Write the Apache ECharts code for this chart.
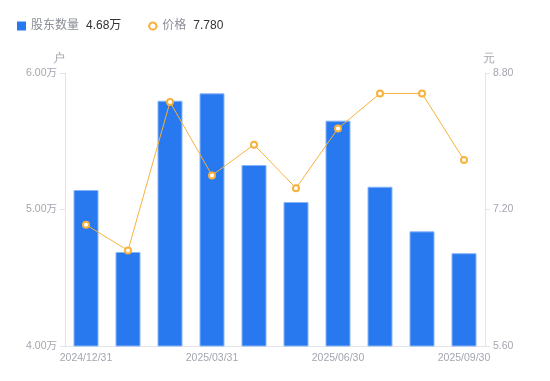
<!DOCTYPE html>
<html><head><meta charset="utf-8">
<script src="https://cdn.jsdelivr.net/npm/echarts@6/dist/echarts.min.js"></script>
<style>html,body{margin:0;padding:0;background:#fff}#c{width:550px;height:381px}</style>
</head><body><div id="c"></div>
<script>
var categories = ['2024/12/31','2025/01/31','2025/02/28','2025/03/31','2025/04/30','2025/05/30','2025/06/30','2025/07/31','2025/08/29','2025/09/30'];
var holders = [51430, 46890, 57970, 58510, 53260, 50550, 56510, 51670, 48400, 46800];
var prices = [7.02, 6.72, 8.46, 7.60, 7.96, 7.45, 8.15, 8.56, 8.56, 7.78];
var leftTicks = [40000, 50000, 60000];
var rightTicks = [5.60, 7.20, 8.80];

var chart = echarts.init(document.getElementById('c'));
var gray = '#a4a6b0';
var ff = 'Liberation Sans, Arial, Noto Sans CJK SC, sans-serif';
chart.setOption({
  animation: false,
  legend: {
    left: 12, top: 15, itemWidth: 9, itemHeight: 9, itemGap: 26,
    textStyle: { fontSize: 12, fontFamily: ff,
      rich: { a: { color: '#8b8d96', fontSize: 12, fontFamily: ff }, b: { color: '#333', fontSize: 12, fontFamily: ff, padding: [0,0,0,7] } } },
    formatter: function (n) {
      if (n === '股东数量') return '{a|股东数量}{b|' + (holders[holders.length-1]/10000).toFixed(2) + '万}';
      return '{a|价格}{b|' + prices[prices.length-1].toFixed(3) + '}';
    },
    data: [{ name: '股东数量', icon: 'rect', itemStyle: { borderWidth: 0, color: '#2878f0' } }, { name: '价格' }]
  },
  grid: { left: 65, right: 65, top: 73, bottom: 35 },
  xAxis: {
    type: 'category', data: categories,
    axisLine: { lineStyle: { color: '#e3e4e8' } },
    axisTick: { show: false },
    axisLabel: { interval: 2, color: gray, fontSize: 10.5, margin: 7, fontFamily: ff }
  },
  yAxis: [{
    type: 'value', min: leftTicks[0], max: leftTicks[2], interval: 10000,
    name: '户', nameGap: 8, nameTextStyle: { color: gray, fontSize: 12, padding: [0, 12, 0, 0] },
    axisLine: { show: true, lineStyle: { color: '#e3e4e8' } },
    axisTick: { show: true, length: 5, lineStyle: { color: '#e3e4e8' } },
    splitLine: { show: false },
    axisLabel: { color: gray, fontSize: 10.5, margin: 8, fontFamily: ff,
      formatter: function (v) { return (v/10000).toFixed(2) + '万'; } }
  }, {
    type: 'value', min: rightTicks[0], max: rightTicks[2], interval: 1.6,
    name: '元', nameGap: 8, nameTextStyle: { color: gray, fontSize: 12, padding: [0, 0, 0, 8] },
    axisLine: { show: true, lineStyle: { color: '#e3e4e8' } },
    axisTick: { show: true, length: 5, lineStyle: { color: '#e3e4e8' } },
    splitLine: { show: false },
    axisLabel: { color: gray, fontSize: 10.5, margin: 8, fontFamily: ff,
      formatter: function (v) { return v.toFixed(2); } }
  }],
  series: [{
    name: '股东数量', type: 'bar', data: holders, barWidth: 25,
    itemStyle: { color: '#2878f0', borderColor: '#8ab6f7', borderWidth: 1 }
  }, {
    name: '价格', type: 'line', yAxisIndex: 1, data: prices,
    symbol: 'circle', symbolSize: 6,
    lineStyle: { color: '#f7b23b', width: 1 },
    itemStyle: { color: '#fff', borderColor: '#f7b23b', borderWidth: 2 }
  }]
});
</script></body></html>
